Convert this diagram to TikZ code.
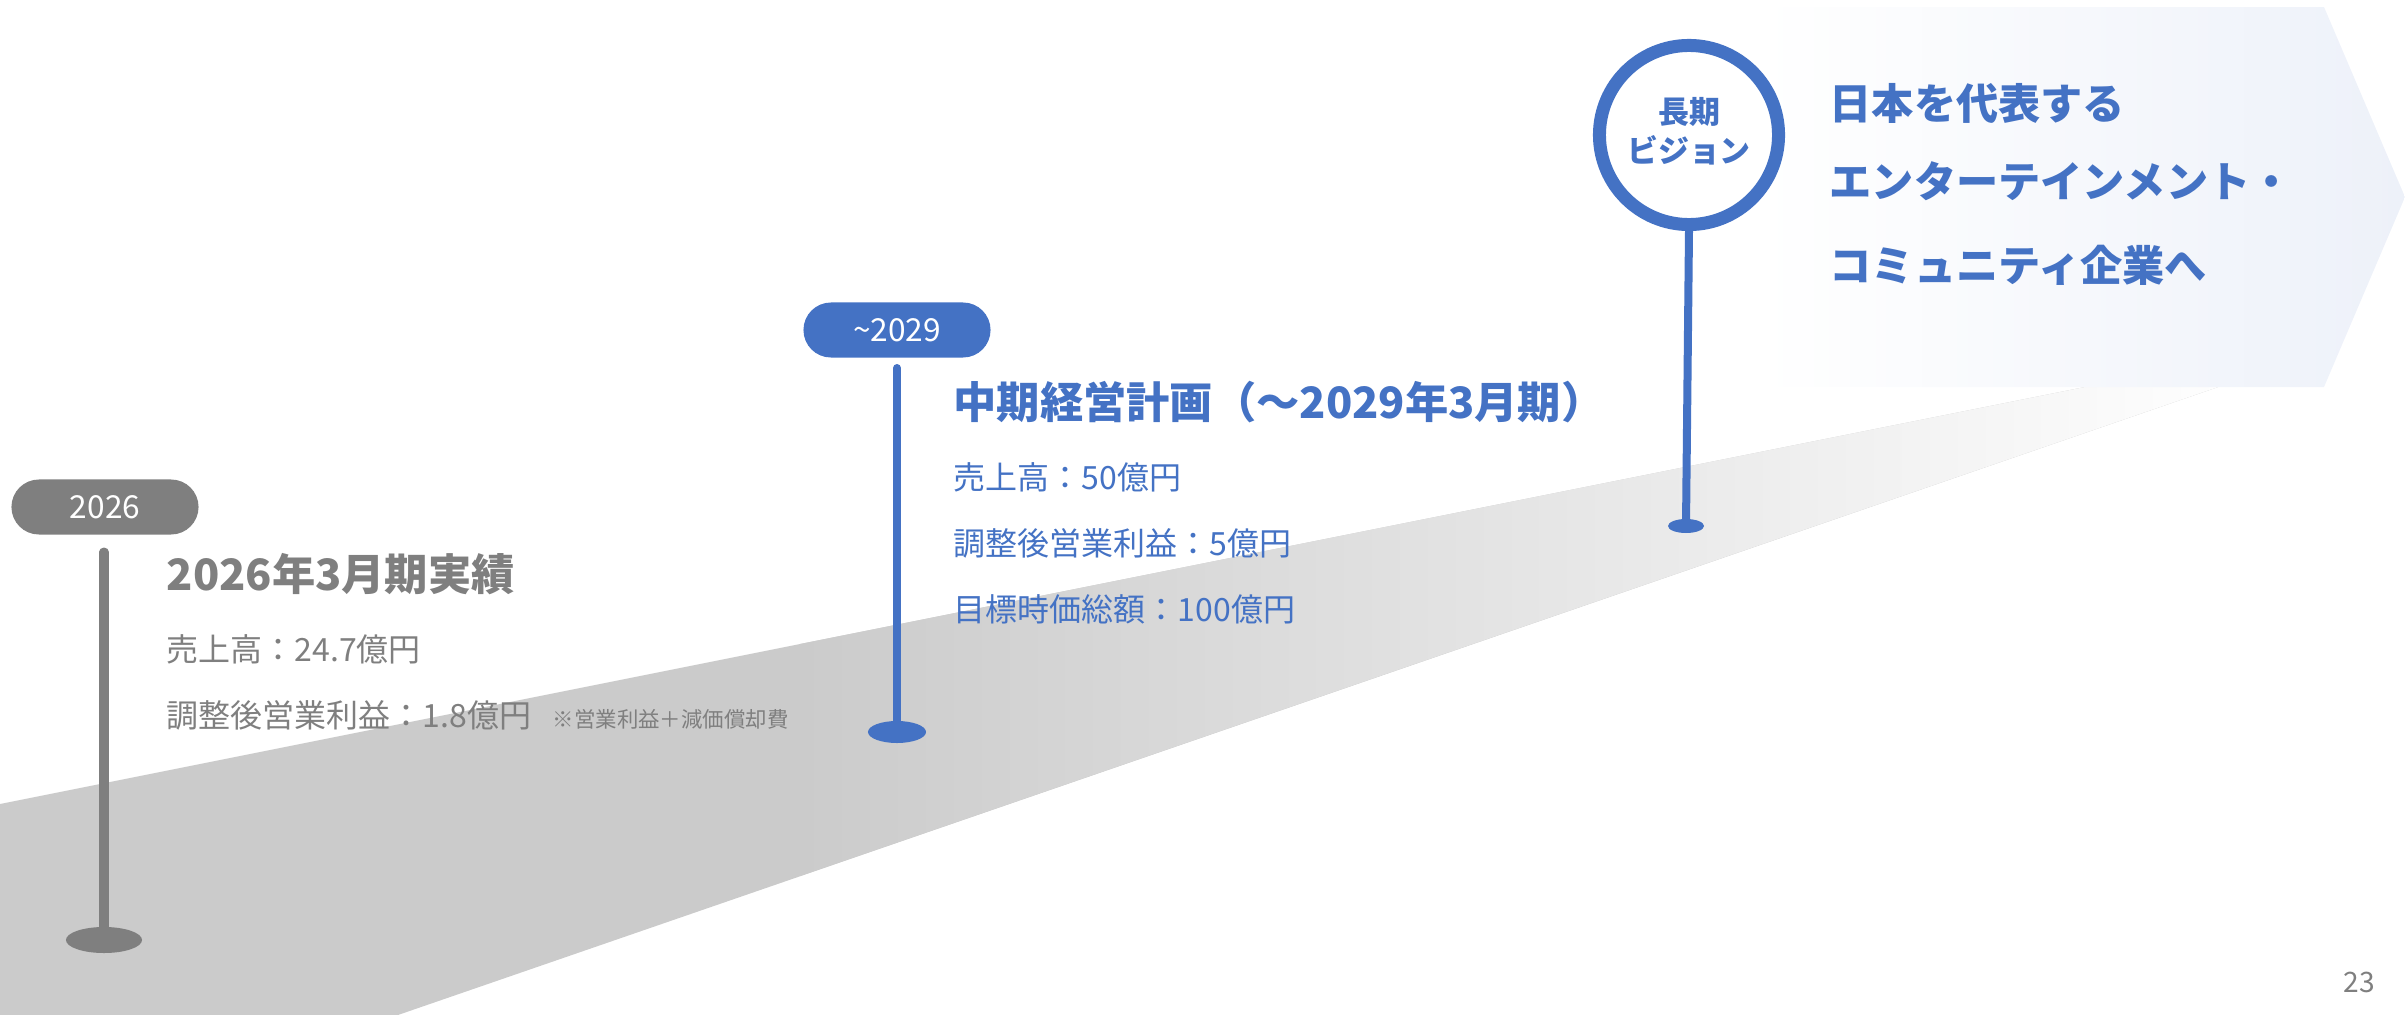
\documentclass[tikz,border=0pt]{standalone}
\usepackage{fontspec}
\setmainfont{Noto Sans CJK JP}
\usetikzlibrary{shapes.geometric}
\definecolor{blu}{HTML}{4472C4}
\definecolor{gry}{HTML}{7F7F7F}
\definecolor{roadgray}{HTML}{CBCBCB}
\definecolor{panelblue}{HTML}{EDF1F9}
\begin{document}
\begin{tikzpicture}[x=0.01cm,y=-0.01cm,
  pill/.style={rounded corners=0.275cm, minimum width=1.87cm, minimum height=0.55cm, inner sep=0pt, text=white, font=\fontsize{9}{10}\selectfont},
  head/.style={anchor=west, inner sep=0pt, font=\bfseries\fontsize{12.3}{14}\selectfont},
  vhead/.style={anchor=west, inner sep=0pt, font=\bfseries\fontsize{12}{14}\selectfont},
  body/.style={anchor=west, inner sep=0pt, font=\fontsize{9.1}{10}\selectfont},
  note/.style={anchor=base west, inner sep=0pt, text=gry, font=\fontsize{6.1}{7}\selectfont},
  foot/.style={ellipse, inner sep=0pt},
  stem/.style={line cap=round}
]
\useasboundingbox (0,0) rectangle (2405,1015);
% road
\fill[roadgray] (0,804) -- (2250,354) -- (2250,376) -- (398,1015) -- (0,1015) -- cycle;
\shade[left color=roadgray, right color=white] (800,644) -- (2250,354) -- (2250,376) -- (800,876) -- cycle;
% vision panel
\shade[left color=white, right color=panelblue] (1760,7) -- (2324,7) -- (2405,197) -- (2324,387) -- (1760,387) -- cycle;

% 2026 marker
\node[pill, fill=gry] (p26) at (105,507) {2026};
\coordinate (s26) at (104,552);
\node[foot, fill=gry, minimum width=0.76cm, minimum height=0.26cm] (b26) at (104,940) {};
\draw[stem, gry, line width=0.09cm] (s26) -- (b26.center);

% 2029 marker
\node[pill, fill=blu] (p29) at (897,330) {\textasciitilde2029};
\coordinate (s29) at (897,368);
\node[foot, fill=blu, minimum width=0.58cm, minimum height=0.22cm] (b29) at (897,732) {};
\draw[stem, blu, line width=0.08cm] (s29) -- (b29.center);

% vision marker
\node[foot, fill=blu, minimum width=0.36cm, minimum height=0.14cm] (bv) at (1686,526) {};
\node[circle, draw=blu, line width=0.13cm, fill=white, minimum size=1.79cm, inner sep=0pt] (vis) at (1689,135) {};
\draw[blu, line width=0.08cm] (vis.south) -- (bv.center);
\node[inner sep=0pt, text=blu, font=\bfseries\fontsize{8.8}{10}\selectfont] (v1) at (1689,112) {長期};
\node[inner sep=0pt, text=blu, font=\bfseries\fontsize{8.8}{10}\selectfont] (v2) at (1689,150) {ビジョン};

% texts 2026
\node[head, text=gry] (h26) at (166,574) {2026年3月期実績};
\node[body, text=gry] (r26) at (166,649) {売上高：24.7億円};
\node[body, text=gry] (o26) at (166,715) {調整後営業利益：1.8億円};
\coordinate (nx) at (552,0);
\node[note] (n26) at (nx |- o26.base) {※営業利益＋減価償却費};

% texts 2029
\node[head, text=blu] (h29) at (953,402) {中期経営計画（～2029年3月期）};
\node[body, text=blu] (r29) at (953,477) {売上高：50億円};
\node[body, text=blu] (o29) at (953,543) {調整後営業利益：5億円};
\node[body, text=blu] (m29) at (953,609) {目標時価総額：100億円};

% vision text
\node[vhead, text=blu] (t1) at (1829,103) {日本を代表する};
\node[vhead, text=blu] (t2) at (1829,181) {エンターテインメント・};
\node[vhead, text=blu] (t3) at (1829,265) {コミュニティ企業へ};

% page number
\node[inner sep=0pt, text=gry, font=\fontsize{8}{9}\selectfont] (pg) at (2359,982) {23};
\end{tikzpicture}
\end{document}
